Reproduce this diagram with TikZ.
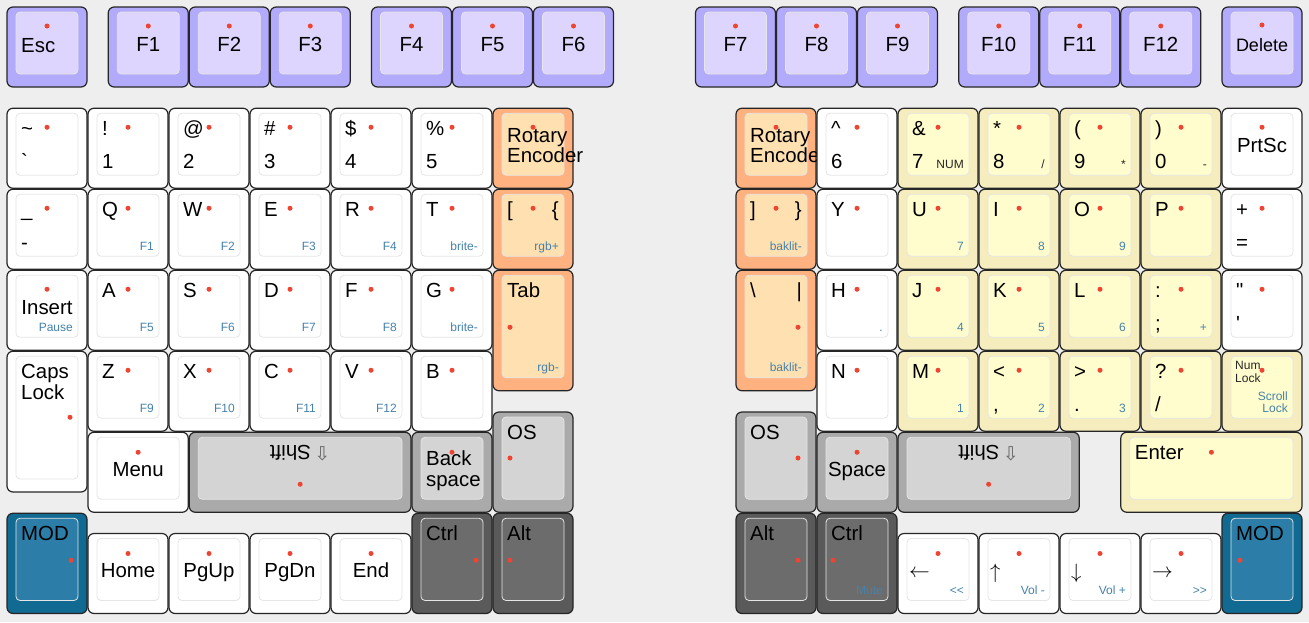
\documentclass[tikz,border=0pt]{standalone}
\usepackage{fontspec}
\setmainfont{Liberation Sans}
\newfontfamily\arrowfont{DejaVu Sans}
\usepackage{graphicx}
\definecolor{bgc}{RGB}{238,238,238}
\definecolor{purout}{RGB}{178,170,250}
\definecolor{purin}{RGB}{221,213,253}
\definecolor{whtout}{RGB}{255,255,255}
\definecolor{whtin}{RGB}{255,255,255}
\definecolor{orgout}{RGB}{255,178,127}
\definecolor{orgin}{RGB}{255,224,176}
\definecolor{yelout}{RGB}{246,237,190}
\definecolor{yelin}{RGB}{255,253,205}
\definecolor{gryout}{RGB}{170,170,170}
\definecolor{gryin}{RGB}{212,212,212}
\definecolor{dgrout}{RGB}{90,90,90}
\definecolor{dgrin}{RGB}{108,108,108}
\definecolor{bluout}{RGB}{16,106,146}
\definecolor{bluin}{RGB}{44,126,168}
\definecolor{nubc}{RGB}{238,68,50}
\definecolor{frontc}{RGB}{70,130,170}
% key: name, X, Y, width, height (units), colour set
\def\kcap#1#2#3#4#5#6{%
  \node[keyout, fill=#6out, minimum width={81pt*#4-1pt}, minimum height={81pt*#5-1pt}] (#1) at ({7+81*#2},{7+81*#3}) {};
  \node[keyin, fill=#6in, minimum width={81pt*#4-19pt}, minimum height={81pt*#5-19pt}] (#1-in) at ([shift={(9,5)}]#1.north west) {};}
\def\lgtl#1#2{\node[lgd, anchor=base west] (#1-tl) at ([shift={(14,27)}]#1.north west) {#2};}
\def\lgbl#1#2{\node[lgd, anchor=base west] (#1-bl) at ([shift={(14,60)}]#1.north west) {#2};}
\def\lgtr#1#2{\node[lgd, anchor=base east] (#1-tr) at ([shift={(-14,27)}]#1.north east) {#2};}
\def\lgbr#1#2{\node[sml, anchor=base east] (#1-br) at ([shift={(-14,60)}]#1.north east) {#2};}
\def\lgfr#1#2{\node[frt, anchor=base east] (#1-fr) at ([shift={(-14,-19)}]#1.south east) {#2};}
\def\lgc#1#2{\node[lgd, anchor=base] (#1-c) at ([shift={(0,44)}]#1.north) {#2};}
\def\lgar#1#2{\node[lgd, anchor=west] (#1-c) at ([shift={(11,40)}]#1.north west) {#2};}
\def\nub#1#2#3{\node[nub] (#1-nub) at ([shift={(#2,#3)}]#1.north west) {};}
\def\nubc#1#2{\node[nub] (#1-nub) at ([shift={(0,#2)}]#1.north) {};}
\def\shft{\rotatebox[origin=c]{180}{Shift}\,{\arrowfont\fontsize{19}{20}\selectfont\color{black!60}⇩}}
\begin{document}
\begin{tikzpicture}[x=1pt, y=-1pt,
    keyout/.style={rectangle, anchor=north west, rounded corners=6pt, draw=black!85, line width=1.2pt, inner sep=0pt, outer sep=0pt},
    keyin/.style={rectangle, anchor=north west, rounded corners=4pt, draw=black!10, line width=0.8pt, inner sep=0pt, outer sep=0pt},
    lgd/.style={inner sep=0pt, font=\fontsize{20.4}{24}\selectfont},
    sml/.style={inner sep=0pt, font=\fontsize{12}{14}\selectfont, text=black!85},
    frt/.style={sml, text=frontc},
    nub/.style={circle, fill=nubc, minimum size=5pt, inner sep=0pt}
  ]
  \fill[bgc] (0,0) rectangle (1309,622);
  \useasboundingbox (0,0) rectangle (1309,622);

  % function row
  \kcap{esc}{0}{0}{1}{1}{pur}
  \node[lgd, anchor=base west] (esc-c) at ([shift={(14,45)}]esc.north west) {Esc}; \nub{esc}{40}{19}
  \kcap{f1}{1.25}{0}{1}{1}{pur} \lgc{f1}{F1} \nub{f1}{40}{19}
  \kcap{f2}{2.25}{0}{1}{1}{pur} \lgc{f2}{F2} \nub{f2}{40}{19}
  \kcap{f3}{3.25}{0}{1}{1}{pur} \lgc{f3}{F3} \nub{f3}{40}{19}
  \kcap{f4}{4.5}{0}{1}{1}{pur} \lgc{f4}{F4} \nub{f4}{40}{19}
  \kcap{f5}{5.5}{0}{1}{1}{pur} \lgc{f5}{F5} \nub{f5}{40}{19}
  \kcap{f6}{6.5}{0}{1}{1}{pur} \lgc{f6}{F6} \nub{f6}{40}{19}
  \kcap{f7}{8.5}{0}{1}{1}{pur} \lgc{f7}{F7} \nub{f7}{40}{19}
  \kcap{f8}{9.5}{0}{1}{1}{pur} \lgc{f8}{F8} \nub{f8}{40}{19}
  \kcap{f9}{10.5}{0}{1}{1}{pur} \lgc{f9}{F9} \nub{f9}{40}{19}
  \kcap{f10}{11.75}{0}{1}{1}{pur} \lgc{f10}{F10} \nub{f10}{40}{19}
  \kcap{f11}{12.75}{0}{1}{1}{pur} \lgc{f11}{F11} \nub{f11}{40}{19}
  \kcap{f12}{13.75}{0}{1}{1}{pur} \lgc{f12}{F12} \nub{f12}{40}{19}
  \kcap{del}{15}{0}{1}{1}{pur}
  \node[lgd, font=\fontsize{18}{20}\selectfont, anchor=base] (del-c) at ([shift={(0,44)}]del.north) {Delete}; \nub{del}{40}{18}

  % left half
  \kcap{tld}{0}{1.25}{1}{1}{wht} \lgtl{tld}{\textasciitilde} \lgbl{tld}{\textasciigrave} \nub{tld}{40}{19}
  \kcap{k1}{1}{1.25}{1}{1}{wht} \lgtl{k1}{!} \lgbl{k1}{1} \nub{k1}{40}{19}
  \kcap{k2}{2}{1.25}{1}{1}{wht} \lgtl{k2}{@} \lgbl{k2}{2} \nub{k2}{40}{19}
  \kcap{k3}{3}{1.25}{1}{1}{wht} \lgtl{k3}{\#} \lgbl{k3}{3} \nub{k3}{40}{19}
  \kcap{k4}{4}{1.25}{1}{1}{wht} \lgtl{k4}{\$} \lgbl{k4}{4} \nub{k4}{40}{19}
  \kcap{k5}{5}{1.25}{1}{1}{wht} \lgtl{k5}{\%} \lgbl{k5}{5} \nub{k5}{40}{19}
  \kcap{encl}{6}{1.25}{1}{1}{org}
  \node[lgd, anchor=base west] (encl-l1) at ([shift={(14,34)}]encl.north west) {Rotary};
  \node[lgd, anchor=base west] (encl-l2) at ([shift={(14,54)}]encl.north west) {Encoder};
  \nub{encl}{40}{19}

  \kcap{mns}{0}{2.25}{1}{1}{wht} \lgtl{mns}{\_} \lgbl{mns}{-} \nub{mns}{40}{19}
  \kcap{q}{1}{2.25}{1}{1}{wht} \lgtl{q}{Q} \lgfr{q}{F1} \nub{q}{40}{19}
  \kcap{w}{2}{2.25}{1}{1}{wht} \lgtl{w}{W} \lgfr{w}{F2} \nub{w}{40}{19}
  \kcap{e}{3}{2.25}{1}{1}{wht} \lgtl{e}{E} \lgfr{e}{F3} \nub{e}{40}{19}
  \kcap{r}{4}{2.25}{1}{1}{wht} \lgtl{r}{R} \lgfr{r}{F4} \nub{r}{40}{19}
  \kcap{t}{5}{2.25}{1}{1}{wht} \lgtl{t}{T} \lgfr{t}{brite-} \nub{t}{40}{19}
  \kcap{lbr}{6}{2.25}{1}{1}{org} \lgtl{lbr}{[} \lgtr{lbr}{\{} \lgfr{lbr}{rgb+} \nub{lbr}{40}{19}

  \kcap{ins}{0}{3.25}{1}{1}{wht} \lgc{ins}{Insert} \lgfr{ins}{Pause} \nub{ins}{40}{19}
  \kcap{a}{1}{3.25}{1}{1}{wht} \lgtl{a}{A} \lgfr{a}{F5} \nub{a}{40}{19}
  \kcap{s}{2}{3.25}{1}{1}{wht} \lgtl{s}{S} \lgfr{s}{F6} \nub{s}{40}{19}
  \kcap{d}{3}{3.25}{1}{1}{wht} \lgtl{d}{D} \lgfr{d}{F7} \nub{d}{40}{19}
  \kcap{f}{4}{3.25}{1}{1}{wht} \lgtl{f}{F} \lgfr{f}{F8} \nub{f}{40}{19}
  \kcap{g}{5}{3.25}{1}{1}{wht} \lgtl{g}{G} \lgfr{g}{brite-} \nub{g}{40}{19}
  \kcap{tab}{6}{3.25}{1}{1.5}{org} \lgtl{tab}{Tab} \lgfr{tab}{rgb-} \nub{tab}{17}{57}

  \kcap{caps}{0}{4.25}{1}{1.75}{wht}
  \node[lgd, anchor=base west] (caps-l1) at ([shift={(14,27)}]caps.north west) {Caps};
  \node[lgd, anchor=base west] (caps-l2) at ([shift={(14,48)}]caps.north west) {Lock};
  \nub{caps}{63}{66}
  \kcap{z}{1}{4.25}{1}{1}{wht} \lgtl{z}{Z} \lgfr{z}{F9} \nub{z}{40}{19}
  \kcap{x}{2}{4.25}{1}{1}{wht} \lgtl{x}{X} \lgfr{x}{F10} \nub{x}{40}{19}
  \kcap{c}{3}{4.25}{1}{1}{wht} \lgtl{c}{C} \lgfr{c}{F11} \nub{c}{40}{19}
  \kcap{v}{4}{4.25}{1}{1}{wht} \lgtl{v}{V} \lgfr{v}{F12} \nub{v}{40}{19}
  \kcap{b}{5}{4.25}{1}{1}{wht} \lgtl{b}{B} \nub{b}{40}{19}
  \kcap{osl}{6}{5}{1}{1.25}{gry} \lgtl{osl}{OS} \nub{osl}{17}{46}

  \kcap{menu}{1}{5.25}{1.25}{1}{wht} \lgc{menu}{Menu} \nubc{menu}{20}
  \kcap{shl}{2.25}{5.25}{2.75}{1}{gry}
  \node[lgd, anchor=center] (shl-c) at ([shift={(0,21)}]shl.north) {\shft};
  \nubc{shl}{52}
  \kcap{bksp}{5}{5.25}{1}{1}{gry}
  \node[lgd, anchor=base west] (bksp-l1) at ([shift={(14,33)}]bksp.north west) {Back};
  \node[lgd, anchor=base west] (bksp-l2) at ([shift={(14,54)}]bksp.north west) {space};
  \nub{bksp}{40}{20}

  \kcap{modl}{0}{6.25}{1}{1.25}{blu} \lgtl{modl}{MOD} \nub{modl}{64}{47}
  \kcap{home}{1}{6.5}{1}{1}{wht} \lgc{home}{Home} \nub{home}{40}{20}
  \kcap{pgup}{2}{6.5}{1}{1}{wht} \lgc{pgup}{PgUp} \nub{pgup}{40}{20}
  \kcap{pgdn}{3}{6.5}{1}{1}{wht} \lgc{pgdn}{PgDn} \nub{pgdn}{40}{20}
  \kcap{end}{4}{6.5}{1}{1}{wht} \lgc{end}{End} \nub{end}{40}{20}
  \kcap{ctll}{5}{6.25}{1}{1.25}{dgr} \lgtl{ctll}{Ctrl} \nub{ctll}{64}{47}
  \kcap{altl}{6}{6.25}{1}{1.25}{dgr} \lgtl{altl}{Alt} \nub{altl}{17}{47}

  % right half
  \kcap{encr}{9}{1.25}{1}{1}{org}
  \node[lgd, anchor=base west] (encr-l1) at ([shift={(14,34)}]encr.north west) {Rotary};
  \node[lgd, anchor=base west] (encr-l2) at ([shift={(14,54)}]encr.north west) {Encoder};
  \nub{encr}{40}{19}
  \kcap{k6}{10}{1.25}{1}{1}{wht} \lgtl{k6}{\textasciicircum} \lgbl{k6}{6} \nub{k6}{40}{19}
  \kcap{k7}{11}{1.25}{1}{1}{yel} \lgtl{k7}{\&} \lgbl{k7}{7} \lgbr{k7}{NUM} \nub{k7}{40}{19}
  \kcap{k8}{12}{1.25}{1}{1}{yel} \lgtl{k8}{*} \lgbl{k8}{8} \lgbr{k8}{/} \nub{k8}{40}{19}
  \kcap{k9}{13}{1.25}{1}{1}{yel} \lgtl{k9}{(} \lgbl{k9}{9} \lgbr{k9}{*} \nub{k9}{40}{19}
  \kcap{k0}{14}{1.25}{1}{1}{yel} \lgtl{k0}{)} \lgbl{k0}{0} \lgbr{k0}{-} \nub{k0}{40}{19}
  \kcap{prt}{15}{1.25}{1}{1}{wht} \lgc{prt}{PrtSc} \nub{prt}{40}{19}

  \kcap{rbr}{9}{2.25}{1}{1}{org} \lgtl{rbr}{]} \lgtr{rbr}{\}} \lgfr{rbr}{baklit-} \nub{rbr}{40}{19}
  \kcap{y}{10}{2.25}{1}{1}{wht} \lgtl{y}{Y} \nub{y}{40}{19}
  \kcap{u}{11}{2.25}{1}{1}{yel} \lgtl{u}{U} \lgfr{u}{7} \nub{u}{40}{19}
  \kcap{i}{12}{2.25}{1}{1}{yel} \lgtl{i}{I} \lgfr{i}{8} \nub{i}{40}{19}
  \kcap{o}{13}{2.25}{1}{1}{yel} \lgtl{o}{O} \lgfr{o}{9} \nub{o}{40}{19}
  \kcap{p}{14}{2.25}{1}{1}{yel} \lgtl{p}{P} \nub{p}{40}{19}
  \kcap{eql}{15}{2.25}{1}{1}{wht} \lgtl{eql}{+} \lgbl{eql}{=} \nub{eql}{40}{19}

  \kcap{bsl}{9}{3.25}{1}{1.5}{org} \lgtl{bsl}{\textbackslash} \lgtr{bsl}{\textbar} \lgfr{bsl}{baklit-} \nub{bsl}{62}{57}
  \kcap{h}{10}{3.25}{1}{1}{wht} \lgtl{h}{H} \lgfr{h}{.} \nub{h}{40}{19}
  \kcap{j}{11}{3.25}{1}{1}{yel} \lgtl{j}{J} \lgfr{j}{4} \nub{j}{40}{19}
  \kcap{k}{12}{3.25}{1}{1}{yel} \lgtl{k}{K} \lgfr{k}{5} \nub{k}{40}{19}
  \kcap{l}{13}{3.25}{1}{1}{yel} \lgtl{l}{L} \lgfr{l}{6} \nub{l}{40}{19}
  \kcap{scl}{14}{3.25}{1}{1}{yel} \lgtl{scl}{:} \lgbl{scl}{;} \lgfr{scl}{+} \nub{scl}{40}{19}
  \kcap{quo}{15}{3.25}{1}{1}{wht} \lgtl{quo}{\textquotedbl} \lgbl{quo}{\textquotesingle} \nub{quo}{40}{19}

  \kcap{n}{10}{4.25}{1}{1}{wht} \lgtl{n}{N} \nub{n}{40}{19}
  \kcap{m}{11}{4.25}{1}{1}{yel} \lgtl{m}{M} \lgfr{m}{1} \nub{m}{40}{19}
  \kcap{cma}{12}{4.25}{1}{1}{yel} \lgtl{cma}{<} \lgbl{cma}{,} \lgfr{cma}{2} \nub{cma}{40}{19}
  \kcap{prd}{13}{4.25}{1}{1}{yel} \lgtl{prd}{>} \lgbl{prd}{.} \lgfr{prd}{3} \nub{prd}{40}{19}
  \kcap{sls}{14}{4.25}{1}{1}{yel} \lgtl{sls}{?} \lgbl{sls}{/} \nub{sls}{40}{19}
  \kcap{num}{15}{4.25}{1}{1}{yel}
  \node[sml, anchor=base west] (num-l1) at ([shift={(13,18)}]num.north west) {Num};
  \node[sml, anchor=base west] (num-l2) at ([shift={(13,31)}]num.north west) {Lock};
  \node[frt, anchor=base east] (num-f1) at ([shift={(-14,-31)}]num.south east) {Scroll};
  \node[frt, anchor=base east] (num-f2) at ([shift={(-14,-19)}]num.south east) {Lock};
  \nub{num}{40}{19}

  \kcap{osr}{9}{5}{1}{1.25}{gry} \lgtl{osr}{OS} \nub{osr}{62}{46}
  \kcap{spc}{10}{5.25}{1}{1}{gry} \lgc{spc}{Space} \nub{spc}{40}{20}
  \kcap{shr}{11}{5.25}{2.25}{1}{gry}
  \node[lgd, anchor=center] (shr-c) at ([shift={(0,21)}]shr.north) {\shft};
  \nubc{shr}{52}
  \kcap{ent}{13.75}{5.25}{2.25}{1}{yel} \lgtl{ent}{Enter} \nubc{ent}{20}

  \kcap{altr}{9}{6.25}{1}{1.25}{dgr} \lgtl{altr}{Alt} \nub{altr}{62}{47}
  \kcap{ctlr}{10}{6.25}{1}{1.25}{dgr} \lgtl{ctlr}{Ctrl} \lgfr{ctlr}{Mute} \nub{ctlr}{16}{47}
  \kcap{lft}{11}{6.5}{1}{1}{wht} \lgar{lft}{$\leftarrow$} \lgfr{lft}{<{}<} \nub{lft}{40}{20}
  \kcap{upk}{12}{6.5}{1}{1}{wht} \lgar{upk}{$\uparrow$} \lgfr{upk}{Vol -} \nub{upk}{40}{20}
  \kcap{dnk}{13}{6.5}{1}{1}{wht} \lgar{dnk}{$\downarrow$} \lgfr{dnk}{Vol +} \nub{dnk}{40}{20}
  \kcap{rgt}{14}{6.5}{1}{1}{wht} \lgar{rgt}{$\rightarrow$} \lgfr{rgt}{>{}>} \nub{rgt}{40}{20}
  \kcap{modr}{15}{6.25}{1}{1.25}{blu} \lgtl{modr}{MOD} \nub{modr}{18}{47}
\end{tikzpicture}
\end{document}
